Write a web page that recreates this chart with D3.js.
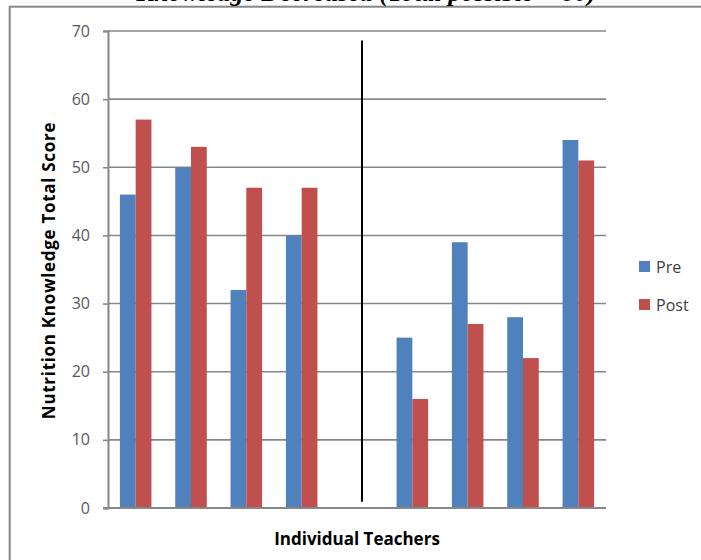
<!DOCTYPE html>
<html>
<head>
<meta charset="utf-8">
<script src="https://cdn.jsdelivr.net/npm/d3@7"></script>
<style>
  html, body { margin: 0; padding: 0; background: #fff; }
  svg { display: block; }
</style>
</head>
<body>
<svg id="chart" width="701" height="560"></svg>
<script>
// Teachers 1-4 (scores went up), an empty slot for the divider, teachers 5-8 (scores went down)
const teachers = ["T1", "T2", "T3", "T4", "divider", "T5", "T6", "T7", "T8"];
const preScores  = [46, 50, 32, 40, null, 25, 39, 28, 54];
const postScores = [57, 53, 47, 47, null, 16, 27, 22, 51];
const seriesNames = ["Pre", "Post"];
const seriesColors = ["#4F81BD", "#C0504D"];
const yTicks = [0, 10, 20, 30, 40, 50, 60, 70];
const titleText = "Knowledge Decreased (Total possible = 80)";
const yTitle = "Nutrition Knowledge Total Score";
const xTitle = "Individual Teachers";

const svg = d3.select("#chart");
const labelFont = "'Open Sans', 'Noto Sans', sans-serif";

const plot = { left: 108, right: 606, top: 31, bottom: 508 };

const x0 = d3.scaleBand().domain(teachers).range([plot.left, plot.right]).padding(0);
const x1 = d3.scaleBand().domain(seriesNames)
  .range([x0.bandwidth() * 0.215, x0.bandwidth() * 0.785]).padding(0);
const y = d3.scaleLinear().domain([0, 70]).range([plot.bottom, plot.top]);
const color = d3.scaleOrdinal().domain(seriesNames).range(seriesColors);

// Outer chart frame
svg.append("rect")
  .attr("x", 9.7).attr("y", 6.7)
  .attr("width", 720).attr("height", 600)
  .attr("fill", "none").attr("stroke", "#878787").attr("stroke-width", 2);

// Title sitting above the frame (only its lower part is on the page)
svg.append("text")
  .attr("x", 596).attr("y", 0.5)
  .attr("text-anchor", "end")
  .attr("font-family", "'Liberation Serif', 'DejaVu Serif', serif")
  .attr("font-weight", "bold").attr("font-style", "italic")
  .attr("font-size", 26)
  .attr("fill", "#000")
  .text(titleText);

// Horizontal gridlines
svg.append("g")
  .selectAll("line")
  .data(yTicks.filter(t => t > 0))
  .join("line")
  .attr("x1", plot.left).attr("x2", plot.right)
  .attr("y1", d => y(d)).attr("y2", d => y(d))
  .attr("stroke", "#878787").attr("stroke-width", 1.6);

// Y axis
const yAxis = svg.append("g")
  .attr("transform", `translate(${plot.left},0)`)
  .call(d3.axisLeft(y).tickValues(yTicks).tickSize(5).tickPadding(13));
yAxis.select(".domain").attr("stroke", "#878787").attr("stroke-width", 2);
yAxis.selectAll(".tick line").attr("stroke", "#878787").attr("stroke-width", 1.6);
yAxis.selectAll(".tick text")
  .attr("font-family", labelFont).attr("font-size", 16).attr("fill", "#595959");

// Bars
const groups = svg.append("g")
  .selectAll("g")
  .data(teachers.map((t, i) => ({ t, values: [preScores[i], postScores[i]] })))
  .join("g")
  .attr("transform", d => `translate(${x0(d.t)},0)`);

groups.selectAll("rect")
  .data(d => d.values.map((v, j) => ({ key: seriesNames[j], value: v })).filter(e => e.value != null))
  .join("rect")
  .attr("x", d => x1(d.key))
  .attr("width", x1.bandwidth())
  .attr("y", d => y(d.value))
  .attr("height", d => y(0) - y(d.value))
  .attr("fill", d => color(d.key));

// X axis baseline (extends slightly left of the value axis)
svg.append("line")
  .attr("x1", plot.left - 5).attr("x2", plot.right)
  .attr("y1", y(0)).attr("y2", y(0))
  .attr("stroke", "#878787").attr("stroke-width", 2);

// Divider between the two groups of teachers
const divX = x0("divider") + x0.bandwidth() / 2 + 5;
svg.append("line")
  .attr("x1", divX).attr("x2", divX)
  .attr("y1", y(68.6)).attr("y2", y(0.9))
  .attr("stroke", "#000").attr("stroke-width", 2);

// Axis titles
svg.append("text")
  .attr("transform", `translate(55,${(plot.top + plot.bottom) / 2 + 1}) rotate(-90)`)
  .attr("text-anchor", "middle")
  .attr("font-family", labelFont).attr("font-weight", "bold").attr("font-size", 17)
  .attr("letter-spacing", 0.7)
  .attr("fill", "#000")
  .text(yTitle);

svg.append("text")
  .attr("x", 357).attr("y", 545)
  .attr("text-anchor", "middle")
  .attr("font-family", labelFont).attr("font-weight", "bold").attr("font-size", 17)
  .attr("fill", "#000")
  .text(xTitle);

// Legend
const legend = svg.append("g")
  .selectAll("g")
  .data(seriesNames)
  .join("g")
  .attr("transform", (d, i) => `translate(639,${261 + i * 38})`);
legend.append("rect")
  .attr("width", 11).attr("height", 11)
  .attr("fill", d => color(d));
legend.append("text")
  .attr("x", 17).attr("y", 12)
  .attr("font-family", labelFont).attr("font-size", 16).attr("fill", "#404040")
  .text(d => d);
</script>
</body>
</html>
